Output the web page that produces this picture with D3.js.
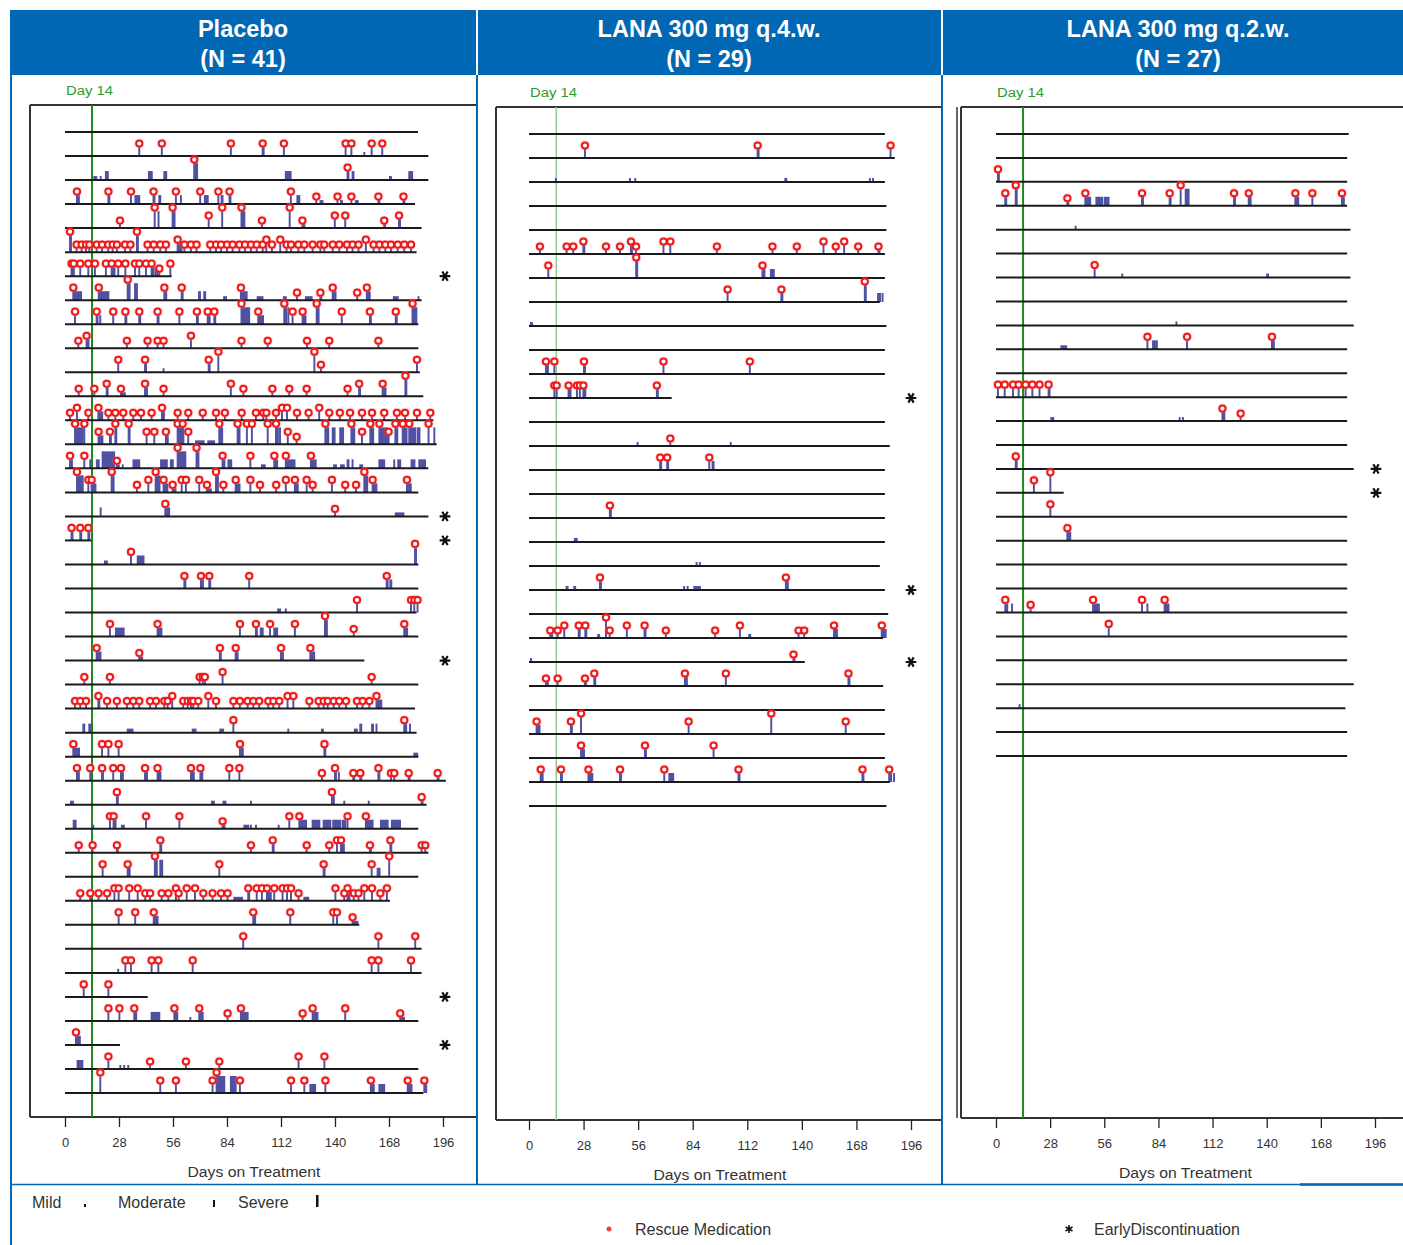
<!DOCTYPE html>
<html>
<head>
<meta charset="utf-8">
<script src="https://cdn.jsdelivr.net/npm/d3@7"></script>
<style>
  body { margin: 0; background: #fff; }
  svg { display: block; }
</style>
</head>
<body>
<svg id="chart" width="1403" height="1245"></svg>
<script>
// ---------------------------------------------------------------------------
// Data
// ---------------------------------------------------------------------------
const armTitles = [
  ["Placebo", "(N = 41)"],
  ["LANA 300 mg q.4.w.", "(N = 29)"],
  ["LANA 300 mg q.2.w.", "(N = 27)"]
];
const dayTicks = [0, 28, 56, 84, 112, 140, 168, 196];
const referenceDay = 14;
const severityNames = ["Mild", "Moderate", "Severe"];

// Each event: [day of onset, severity (1 mild, 2 moderate, 3 severe), rescue medication (0/1), duration in days]
const placeboEndDay = [183, 188.4, 188.4, 181.5, 184.9, 182.3, 55.3, 184.9, 183.2, 183.2,
  184, 185.8, 191, 192.7, 188.4, 183.2, 188.4, 13.5, 183.2, 183.2,
  182.3, 183.2, 155.2, 183.2, 181.5, 182.3, 183.2, 197.5, 187.5, 183.2,
  188.4, 183.2, 168.5, 152.6, 184.9, 184.9, 42.9, 183.2, 28.5, 183.2, 185.8];
const placeboDiscontinued = [7, 17, 18, 23, 37, 39];
const placeboEvents = [
  [],
  [[38,2,1],[49.7,2,1],[85.5,2,1],[102,2,1,1.5],[113,2,1],[145,2,1],[148,2,1],[154.7,1,0],[158.5,2,1],[164,2,1]],
  [[14.7,1,0,2],[18,1,0],[20.7,2,0,2],[43,2,0,2.5],[51,2,0,2],[66.5,3,1,2.5],[114,2,0,3.5],[146,2,1,1.5],[148.6,2,0,1.5],[168,1,0,1.5],[178,2,0,2.5]],
  [[5.7,2,1,2],[22,2,1,1.5],[33.7,2,1],[36,2,0,3],[45.4,2,1,1.5],[48.4,2,0,1.5],[57,2,1],[59.6,2,0],[69.6,2,1],[72,2,0,2.5],[79,2,1],[80.7,2,0,1.5],[84.8,2,1,1.5],[116.6,2,1],[120,2,0,2],[129.8,1,1],[132,1,0,2],[140.8,1,1],[142.6,1,0,1.5],[148,1,1],[150.3,1,0,2],[162,1,1,1.5],[175,1,1,1.5]],
  [[28,1,1],[46,3,1],[48,3,0],[55.3,3,1,2],[74,2,1],[81,3,1],[91,3,1,2.5],[101.6,1,1],[116,3,1],[122.6,1,1,2],[139.4,2,1],[144.8,2,1],[165,1,1,1.5],[172.7,2,1,1.5]],
  [[2.1,3,1,1.5],[5.5,1,1],[8.1,1,1],[10.4,1,1],[12.1,1,1],[15.9,1,1],[18.7,1,1],[21.9,1,1],[24.2,1,1],[26.4,1,1],[30.6,1,1],[33.4,1,1],[36.8,3,1,1.5],[42.3,1,1],[45.5,1,1],[48.9,1,1],[51.8,1,1],[57.9,2,1,3],[61.4,1,1],[64.8,1,1],[67.7,1,1],[74.8,1,1],[77.8,1,1],[80.4,1,1],[83.5,1,1],[86.4,1,1],[89.9,1,1],[92.8,1,1],[95.9,1,1],[98.9,1,1],[102,1,1],[103.9,2,1],[106.8,1,1],[111.1,2,1],[114.4,1,1],[116.7,1,1],[120.5,1,1],[123.6,1,1],[127.9,1,1],[131.9,1,1],[133.9,1,1],[138.3,1,1],[141.7,1,1],[145.7,1,1],[148.6,1,1],[151.7,1,1],[155.5,2,1],[159.5,1,1],[162.5,1,1],[165.6,1,1],[168.5,1,1],[172,1,1],[175.4,1,1],[178.9,1,1]],
  [[2.9,2,1,2],[4,2,1],[7.4,2,1],[11.6,2,1],[15,2,1],[20.7,2,1],[23.7,2,1,2.5],[27.1,2,1],[30.8,2,1],[35.8,2,1],[38,2,1],[41.5,2,1],[44.4,2,1,2],[46.5,2,0,2],[48.4,1,1],[54.1,2,1]],
  [[3.8,2,1,5],[17,2,1,6],[32,3,1,2],[35.8,3,0,2],[51,2,1,2],[60,2,1,1.5],[69,2,0,1.5],[71.7,2,0,1.5],[82,1,0,2],[90.7,2,1,4],[99.4,1,0,3.5],[113,1,0,2],[119.8,1,1],[124.4,1,0,4],[131.9,1,1,1.5],[138.3,2,1,2.5],[151,1,1],[156,2,1,2.5],[170,1,0,3],[182.8,1,0]],
  [[4.7,2,1],[15.9,2,1,1.5],[17.8,2,0],[24.5,2,1],[30.8,2,1,1.5],[38,2,1,1.5],[47.5,2,1,1.5],[58.8,2,1],[67.9,2,1,1.5],[73.5,2,1,2],[76.9,2,1,1.5],[91,3,1,5],[99.7,2,1,3.5],[113.2,3,1,2],[115.3,3,0],[117.5,2,1],[122.7,2,1,2.5],[130,3,1,2],[143,2,1],[157.6,2,1,1.5],[171,2,1,1.5],[179.7,3,1,3]],
  [[6.4,1,1],[10.7,2,1,2],[31.6,1,1],[42.3,1,1],[47.5,1,1],[50.6,1,1],[64.8,2,1],[91,1,1],[104.6,1,1],[125,1,1],[136.5,1,1],[162,1,1]],
  [[27.1,2,1],[41,2,1,1.5],[50.6,1,0],[74,2,1,1.5],[79,3,1],[128.8,3,1],[132.2,1,1],[182,2,1]],
  [[6.6,1,1],[14.7,1,1],[21.1,2,1,1.5],[28.5,1,1,3],[41,2,1,2],[50.6,1,1],[85.5,2,1],[92,1,1],[107,1,1],[115.8,1,1],[124.8,1,1],[146,1,1],[152,2,1,1.5],[164.2,2,1,2.5],[176,3,1,1.5]],
  [[2.1,1,1],[5.7,2,1],[11.6,1,1],[16.8,2,1,3],[22,1,1],[25.6,1,1],[29.7,1,1],[34.9,1,1],[38.9,1,1],[44.4,1,1],[49.8,2,1,2],[57.9,1,1],[63.4,1,1],[70.9,1,1],[77.8,1,1],[82.4,1,1],[91.1,1,1],[98.5,1,1],[102.3,1,1],[103.9,1,1],[108.9,1,1],[112,2,1],[114.6,2,1],[119.8,1,1],[125.8,1,1],[131.3,2,1],[136.5,1,1],[142,1,1],[147.3,1,1],[153.5,1,1],[158.7,1,1],[165,1,1],[171.6,1,1],[175.8,1,1],[182,1,1],[188.9,1,1]],
  [[4.7,3,1,5],[9.5,3,1],[16.9,2,1,3],[22.8,2,1,1.5],[25.6,3,1,1.5],[32.5,3,1,1.5],[41.8,2,1],[45.8,2,1],[51.8,2,1,2],[57.9,3,1,4],[60.5,3,1],[63.4,2,1],[67.4,1,0,5],[73.8,1,0,4],[79.5,3,1,2.5],[89,3,1,2],[93.8,3,1],[96.4,3,1],[104.6,3,1],[108.9,3,1,2],[111,3,0],[115,2,1],[119.6,1,1],[134.5,3,1,2.5],[138.3,3,0,2],[142.2,3,0,2.5],[148,3,1,2.5],[153.5,2,1],[157.8,3,1,2.5],[162.5,3,1,5],[167.3,2,1],[170.8,3,1,2],[174.6,3,1,3],[178,3,1,4],[182.3,3,0,2],[188,3,1],[191,3,0]],
  [[2.1,2,1,2],[9.5,2,1],[12.6,2,0],[16,2,0,2],[19,3,0,7],[26.4,1,1,2],[29.4,1,0],[35,2,0,4],[49.3,2,0,4],[54.4,2,0,2],[57.9,3,1,5],[67.7,3,1,2],[81.2,2,1,2],[84.2,2,0,2.5],[95.6,2,1],[101.6,1,0,2.5],[108,2,1,2.5],[114,2,1,5.5],[127,2,1,3.5],[139,1,0,2],[142.6,1,0,2.5],[146,2,0,1.5],[148.6,2,0],[152.6,1,0,2],[162.5,2,0,3.5],[170.2,2,0],[172.3,2,0,2],[179.2,2,0,2.5],[183.2,2,0,4]],
  [[5.7,3,1,4],[11.6,2,1],[13.3,2,1,3],[23.7,3,1,2],[36.8,1,1],[42.7,2,1],[46.5,3,1,3],[50.6,2,1,3],[55.3,1,1,2.5],[60,2,1],[62.2,2,1],[69.1,2,1],[73.1,1,1,3],[77.8,3,1,2],[81.6,1,1],[88,2,1,3],[95.6,2,1],[100.6,1,1],[109,1,1],[114,2,1],[118.7,2,1,2.5],[124.8,2,1],[127.9,1,1],[137.9,2,1],[144.8,1,1],[150.4,1,1],[154.7,3,1,2.5],[159,2,1,3],[176.8,2,1,3]],
  [[18,2,0],[51.5,2,1,3],[139.5,1,1],[171,1,0,5]],
  [[2.9,2,1,1.5],[7.4,2,1,1.5],[11.6,2,1,1.5]],
  [[20.2,1,0,2],[33.7,2,1],[37.2,2,0,4],[181,3,1,1.5]],
  [[61.4,2,1,1.5],[70,2,1,2],[74.3,2,1,1.5],[95,2,1],[166.3,2,1,1.5],[168.2,2,0,1.5]],
  [[110,1,0,2],[114,1,0],[150.9,2,1],[178.9,2,1],[180.6,2,1],[182.3,2,1]],
  [[22.8,2,1],[25.9,2,0,5],[47.5,2,1,3],[90.2,2,1],[98.5,2,1,1.5],[101,2,0,2],[105.8,2,1],[108,2,0,2.5],[118.7,2,1],[134.3,3,1,2],[149.2,1,1],[175.4,2,1,2.5]],
  [[15.9,2,1,3],[38,1,1,2.5],[79.8,2,1,1.5],[88,2,1,2],[111.5,2,1,2],[126.7,2,1,3]],
  [[9.5,1,1],[22.8,1,1],[69.3,1,1],[70.9,1,1],[72,1,1],[81.2,2,1],[158.5,1,1]],
  [[4.7,1,1],[7.4,1,1],[10.4,1,1],[16.8,2,1,1.5],[21.3,1,1],[26.4,1,1],[31.6,1,1],[34.9,1,1],[38,1,1],[43.6,1,1],[46.7,1,1],[51,1,1],[52.7,1,1],[55.1,2,1],[60.8,1,1],[63.1,1,1],[64.8,1,1],[66,1,1],[68.6,1,1],[73.8,2,1],[77.8,1,1],[86.8,1,1],[90.2,1,1],[94.2,1,1],[97.1,1,1],[100.2,1,1],[104.9,1,1],[107.5,1,1],[110.6,1,1],[114.9,2,1],[117.9,2,1],[126.2,1,1],[131,1,1],[133.6,1,1],[135.7,1,1],[138.8,1,1],[141.7,1,1],[145.2,1,1],[150.9,1,1],[153.8,1,1],[157.3,1,1],[161,2,1,3.5]],
  [[9,2,0,1.5],[12.1,2,0,1.5],[32,1,0,3.5],[65.7,1,0,2.5],[80,1,0,2.5],[86.8,2,1],[115.3,1,0],[132.7,1,0,1.5],[149.8,1,0,2],[152.6,2,0,1.5],[158.7,2,0,1.5],[161,2,0],[175.4,2,1,2],[178.4,2,0]],
  [[3.8,2,1,4],[18.7,2,1],[22,2,1],[27.3,2,1],[90.2,2,1,2.5],[134,2,1,1.5],[180.6,1,0,2.5]],
  [[5.7,2,1,2],[12.6,2,1],[18.7,2,1,1.5],[24.5,2,1],[28.5,2,1,2],[41,2,1,2],[47.5,2,1,2.5],[64.8,2,1,2.5],[69.7,2,1,2],[84.7,2,1],[89.9,2,1],[132.7,1,1],[139.5,2,1,1.5],[141.5,2,0],[149,1,1,1.5],[152.6,1,1,1.5],[162,2,1,1.5],[168.5,1,1],[170.2,1,1],[177.7,1,1,1.5],[192.7,1,1,1.5]],
  [[2.6,1,0,2],[26.4,2,1,1.5],[75.7,1,0,2],[81.7,1,0,2],[95.9,1,0],[137.9,2,1,2],[144.3,1,0],[157,1,0],[184.4,1,1,1.5]],
  [[4,2,0,2],[14.2,1,0],[22.8,2,1],[24.7,2,1,2],[29,1,0,2],[41.5,2,1],[58.8,2,1],[81.2,1,1,2],[92.5,1,0,3],[95.9,1,0],[98.5,1,0],[110.3,1,0],[115.8,2,1],[121,2,1,4.5],[127.9,2,0,4.5],[133.6,2,0,4.5],[138.6,2,0,4.5],[143.4,2,0,2.5],[146,2,1],[155.5,2,1,4.5],[163.3,2,0,4.5],[169,2,0,4],[172.7,2,0,1.5]],
  [[6.6,1,1],[13.8,1,1],[26.4,1,1,1.5],[48.9,2,1,1.5],[95.9,1,1],[107.2,2,1,1.5],[124.8,1,1],[136.5,1,1],[140.5,2,1],[142.6,2,1,2.5],[157.6,1,1,1.5],[168.2,2,1,1.5],[184.4,1,1],[186.3,1,1]],
  [[19,2,1],[32,2,1,2],[46.1,3,1,2],[48.9,3,0,2],[79.5,2,1],[133.6,2,1,1.5],[158.5,2,1],[161.6,2,0,2],[167.6,3,1]],
  [[7.4,1,1],[12.6,1,1],[16.9,1,1],[21.3,1,1],[25.1,2,1],[27.3,2,1],[32.8,2,1],[37.2,2,1],[41.1,1,1],[43.6,1,1],[49.6,1,1],[53.1,1,1],[57,2,1],[58.4,1,1],[62.6,2,1],[66.9,2,1],[71.2,1,1],[76,1,1],[80.4,1,1],[83.8,1,1],[87.3,1,0,5],[94.5,2,1,1.5],[98.9,2,1],[101.6,2,1],[104.2,2,1,3],[108,2,1],[112.3,2,1],[114.6,2,1],[116.7,2,1],[120.6,1,1],[123.6,1,0,3],[139.7,2,1],[144.3,1,1],[146,2,1,2],[149.2,1,1],[151.7,1,1],[154.7,2,1],[158.7,2,1],[163,1,1],[166.4,2,1]],
  [[27.3,2,1],[35.9,2,1],[45.5,2,1,3],[97.1,2,1,2],[116.3,2,1],[138.6,2,1],[140.5,2,1],[148.6,1,1,3.5]],
  [[91.9,2,1],[162,2,1],[181.1,2,1]],
  [[27.1,1,0],[30.8,2,1],[33.7,2,1],[44.4,2,1],[47.9,2,1],[65.7,2,1],[158.5,2,1],[162,2,1],[178.9,2,1]],
  [[9.2,2,1],[22,2,1]],
  [[22,2,1],[27.7,2,1],[35.4,2,1,2],[44.4,2,0,5],[47.9,2,0],[56.2,2,1,2.5],[64.5,1,0],[69.1,2,1,2],[70.9,2,0],[83.8,1,1],[90.7,2,1,4.5],[122.7,1,1],[127.9,2,1,3.5],[144.8,2,1],[173.3,1,1,3]],
  [[5.2,2,1,3]],
  [[6,2,0,3.5],[22,2,1],[28.2,1,0],[30.2,1,0],[32.3,1,0],[43.6,1,1],[62.2,1,1],[79.5,1,1],[120.6,2,1],[134,2,1]],
  [[17.8,3,1],[48.9,2,1],[57,2,1],[76,2,1],[78.1,3,1,5],[85.5,3,0,3.5],[90.2,2,1],[116.7,2,1],[123.6,2,1],[126.7,2,0,3.5],[134.5,2,1],[158.1,2,1,2.5],[162.5,2,0,3.5],[177.2,2,1,3],[185.8,2,1,2]]
];

const q4wEndDay = [182.6, 187.7, 182.6, 183.4, 183.4, 182.6, 182.6, 180, 183.4, 182.6,
  182.6, 73.2, 182.6, 185.1, 182.6, 182.6, 182.6, 182.6, 180, 182.6,
  184.3, 181.7, 141.5, 181.7, 182.6, 182.6, 182.6, 185.1, 183.4];
const q4wDiscontinued = [12, 20, 23];
const q4wEvents = [
  [],
  [[28.2,2,1],[116.8,2,1,1.5],[185,2,1]],
  [[13.3,1,0],[51.3,1,0],[54,1,0],[131,1,0,1.5],[174.4,1,0],[176,1,0]],
  [],
  [],
  [[5.1,1,1],[18.8,1,1],[22.2,1,1],[27.4,2,1,1.5],[39,1,1],[46.2,1,1],[51.8,2,1,1.5],[54.4,1,1],[68.5,2,1],[72,2,1],[95.9,1,1],[124.4,1,1],[136.9,1,1],[150.6,2,1],[156.9,1,1],[161.2,2,1],[168.4,1,1],[178.8,1,1,1.5]],
  [[9.4,2,1],[54.5,3,1,1.5],[119.3,2,1,2],[123.6,2,0,2.5]],
  [[101.4,2,1],[129,2,1,1.5],[171.8,3,1,1.5],[178.6,2,0,2],[180.9,2,0]],
  [[0.5,1,0,1.5]],
  [],
  [[8.2,2,1,2],[12.5,2,1],[27.7,2,1,1.5],[68.5,2,1],[112.8,2,1]],
  [[12.5,2,1],[13.7,2,1],[19.8,2,1,2],[24.1,2,1],[25.6,2,1],[27.4,2,1,2],[65.1,2,1,1.5]],
  [],
  [[55.2,1,0],[72,1,1],[103,1,0]],
  [[66.8,2,1,1.5],[70.4,2,1,1.5],[92,2,1],[93.7,2,0,1.5]],
  [],
  [[41,2,1,1.5]],
  [[23,1,0,2]],
  [[85.5,1,0],[87.2,1,0]],
  [[18.8,1,0,1.5],[22.7,1,0,1.5],[35.9,2,1,1.5],[79.1,1,0],[80.9,1,0],[84.3,1,0,3.5],[87.2,1,0],[131.3,2,1,2]],
  [],
  [[10.4,1,1,2],[14.2,1,1],[17.6,2,1],[25,2,1,1.5],[28.4,2,1,1.5],[35,1,0,1.5],[39,3,1],[40.9,1,1],[49.7,2,1],[58.8,2,1,1.5],[69.7,1,1],[95,1,1],[107.7,2,1],[112.5,1,0,1.5],[137.8,1,1],[140.7,1,1],[156,2,1,2.5],[180.5,2,1,3]],
  [[0.5,1,0],[135.2,1,1,1.5]],
  [[8.2,1,1,2],[14.2,1,1],[28.2,1,1,1.5],[33,2,1,1.5],[79.5,2,1,2],[100.5,2,1],[163.4,2,1,1.5]],
  [],
  [[3.4,2,1,2.5],[21,2,1,1.5],[26.2,3,1],[81.4,2,1],[123.8,3,1],[162,2,1]],
  [[26.2,2,1,2.5],[59,2,1,1.5],[94.2,2,1]],
  [[5.5,2,1,2],[15.9,2,1,1.5],[30,2,1,3],[46.2,2,1,1.5],[68.9,2,1],[71.5,2,0,3],[107,2,1,1.5],[170.6,2,1,1.5],[184.3,2,1,2],[186.8,2,0]],
  []
];

const q2wEndDay = [182.4, 181.6, 181.6, 181.6, 183.3, 181.6, 183.3, 181.6, 185, 181.6,
  181.6, 181.6, 181.6, 181.6, 185, 35, 181.6, 181.6, 181.6, 181.6,
  181.6, 181.6, 181.6, 185, 180.7, 181.6, 181.6];
const q2wDiscontinued = [15, 16];
const q2wEvents = [
  [],
  [],
  [[0.5,2,1,1.5]],
  [[4.3,2,1,1.5],[9.7,3,1,1.5],[36.4,1,1,1.5],[45.7,2,1,3.5],[51.4,2,0,4],[55.7,2,0,3],[75,2,1,1.5],[89.3,2,1,1.5],[95,3,1],[97.6,3,0,2.5],[122.6,2,1,1.5],[130.2,2,1,2],[154.3,2,1,2.5],[163.1,2,1],[178.4,2,1,2]],
  [[40.7,1,0]],
  [],
  [[50.5,2,1],[64.8,1,0],[139.7,1,0,1.5]],
  [],
  [[92.8,1,0]],
  [[33.3,1,0,3.5],[77.8,2,1],[80.7,2,0,3],[98.3,2,1],[142.2,2,1,2]],
  [],
  [[0.5,2,1],[4,2,1],[8.3,2,1],[11.2,2,1],[14.8,2,1],[18.3,2,1],[22,2,1],[26.7,2,1,1.5]],
  [[28.1,1,0,2],[94.5,1,0],[96.2,1,0],[116.6,2,1,2],[126,1,1]],
  [],
  [[9.7,2,1,1.5]],
  [[19.1,2,1],[27.6,3,1]],
  [[27.6,2,1]],
  [[36.4,2,1,2.5]],
  [],
  [],
  [[4.3,2,1,2],[7.8,2,0],[17.4,1,1],[49.7,2,1,4],[75,2,1],[77.8,2,0],[86.7,2,1,3]],
  [[57.8,2,1]],
  [],
  [],
  [[11.7,1,0]],
  [],
  []
];

// ---------------------------------------------------------------------------
// Layout
// ---------------------------------------------------------------------------
const FONT = "'Liberation Sans', Arial, Helvetica, sans-serif";
const BLUE = "#0067b4";
const BAR = "#4f51a3";

const panels = [
  { title: armTitles[0], end: placeboEndDay, events: placeboEvents, disc: placeboDiscontinued,
    titleX: 243, days: [65, 443], frame: { l: 30, r: 476, t: 105, b: 1117 }, rows: [132, 1093],
    dayLine: "#1c8a1c", dayLineW: 2, starX: 445, labelY: 91, doubleLeft: false },
  { title: armTitles[1], end: q4wEndDay, events: q4wEvents, disc: q4wDiscontinued,
    titleX: 709, days: [529, 911], frame: { l: 496, r: 941, t: 107, b: 1120 }, rows: [134, 806],
    dayLine: "#8dcc8d", dayLineW: 1.5, starX: 911, labelY: 93, doubleLeft: false },
  { title: armTitles[2], end: q2wEndDay, events: q2wEvents, disc: q2wDiscontinued,
    titleX: 1178, days: [996, 1375], frame: { l: 961, r: 1403, t: 107, b: 1118 }, rows: [134, 756],
    dayLine: "#1c8a1c", dayLineW: 2, starX: 1376, labelY: 93, doubleLeft: true }
];

const svg = d3.select("#chart");
const heightBySeverity = d3.scaleOrdinal().domain([1, 2, 3]).range([4, 9, 17]);
const starPath = d3.symbol().type(d3.symbolAsterisk).size(80)();

// Header band
svg.append("rect").attr("x", 10).attr("y", 10).attr("width", 1393).attr("height", 65).attr("fill", BLUE);

// Blue outline of the table body
const outline = svg.append("g").attr("stroke", BLUE).attr("fill", "none");
outline.append("line").attr("x1", 11).attr("x2", 11).attr("y1", 10).attr("y2", 1245).attr("stroke-width", 2);
outline.append("line").attr("x1", 10).attr("x2", 1403).attr("y1", 1184.5).attr("y2", 1184.5).attr("stroke-width", 1.5);
outline.append("line").attr("x1", 1300).attr("x2", 1403).attr("y1", 1184.5).attr("y2", 1184.5).attr("stroke-width", 2.5);
[477, 942].forEach(x => {
  outline.append("line").attr("x1", x).attr("x2", x).attr("y1", 75).attr("y2", 1184).attr("stroke-width", 2);
});
// White separators inside the header
[477, 942].forEach(x => {
  svg.append("line").attr("x1", x).attr("x2", x).attr("y1", 10).attr("y2", 75)
    .attr("stroke", "#fff").attr("stroke-width", 2);
});

panels.forEach(p => {
  const g = svg.append("g");

  // Arm title
  const t = g.append("text").attr("text-anchor", "middle")
    .attr("fill", "#fff").attr("font-family", FONT).attr("font-weight", "bold").attr("font-size", 23.5);
  t.append("tspan").attr("x", p.titleX).attr("y", 37).text(p.title[0]);
  t.append("tspan").attr("x", p.titleX).attr("y", 67).text(p.title[1]);

  const x = d3.scaleLinear().domain([0, 196]).range(p.days);
  const y = d3.scaleLinear().domain([0, p.end.length - 1]).range(p.rows);
  const f = p.frame;

  // Plot frame
  const frameG = g.append("g").attr("stroke", "#333").attr("stroke-width", 2);
  frameG.append("line").attr("x1", f.l).attr("x2", f.r).attr("y1", f.t).attr("y2", f.t);
  frameG.append("line").attr("x1", f.l).attr("x2", f.r).attr("y1", f.b).attr("y2", f.b);
  frameG.append("line").attr("x1", f.l).attr("x2", f.l).attr("y1", f.t).attr("y2", f.b);
  if (p.doubleLeft) {
    frameG.append("line").attr("x1", f.l - 4).attr("x2", f.l - 4).attr("y1", f.t).attr("y2", f.b).attr("stroke-width", 1.5);
  }

  // Day 14 reference line and label
  g.append("line").attr("x1", x(referenceDay)).attr("x2", x(referenceDay))
    .attr("y1", f.t).attr("y2", f.b).attr("stroke", p.dayLine).attr("stroke-width", p.dayLineW);
  g.append("text").attr("x", x(0) + 1).attr("y", p.labelY + 4).attr("fill", "#2a9a2a")
    .attr("font-family", FONT).attr("font-size", 12).attr("textLength", 47).attr("lengthAdjust", "spacingAndGlyphs")
    .text("Day " + referenceDay);

  // Patient rows
  p.end.forEach((endDay, i) => {
    const row = g.append("g");
    const base = y(i);
    const evs = p.events[i].map(e => ({ day: e[0], sev: e[1], rescue: e[2], dur: e[3] || 1 }));

    row.selectAll("rect.attack").data(evs).join("rect")
      .attr("class", "attack")
      .attr("x", d => x(d.day))
      .attr("y", d => base - heightBySeverity(d.sev))
      .attr("width", d => Math.max(1.8, x(d.day + d.dur) - x(d.day)))
      .attr("height", d => heightBySeverity(d.sev))
      .attr("fill", BAR);

    row.append("line").attr("x1", x(0)).attr("x2", x(endDay))
      .attr("y1", base).attr("y2", base).attr("stroke", "#1a1a1a").attr("stroke-width", 2);

    const rescues = evs.filter(d => d.rescue);
    row.selectAll("circle.halo").data(rescues).join("circle")
      .attr("class", "halo")
      .attr("cx", d => x(d.day) + 1)
      .attr("cy", d => base - heightBySeverity(d.sev) - 3.5)
      .attr("r", 5)
      .attr("fill", "#ff6b6b").attr("opacity", 0.3);
    row.selectAll("circle.rescue").data(rescues).join("circle")
      .attr("class", "rescue")
      .attr("cx", d => x(d.day) + 1)
      .attr("cy", d => base - heightBySeverity(d.sev) - 3.5)
      .attr("r", 3.1)
      .attr("fill", "#fff")
      .attr("stroke", "#f01818")
      .attr("stroke-width", 2);
  });

  // Early discontinuation marks
  g.selectAll("path.disc").data(p.disc).join("path")
    .attr("class", "disc")
    .attr("d", starPath)
    .attr("transform", r => `translate(${p.starX},${y(r - 1)}) rotate(90)`)
    .attr("fill", "none").attr("stroke", "#111").attr("stroke-width", 2.2);

  // Axis
  const axis = g.append("g").attr("transform", `translate(0,${f.b})`)
    .call(d3.axisBottom(x).tickValues(dayTicks).tickSize(10).tickSizeOuter(0).tickPadding(11));
  axis.select(".domain").remove();
  axis.selectAll(".tick line").attr("stroke", "#222").attr("stroke-width", 1.3);
  axis.selectAll(".tick text").attr("font-family", FONT).attr("font-size", 13).attr("fill", "#333");
  g.append("text").attr("x", (p.days[0] + p.days[1]) / 2).attr("y", f.b + 60)
    .attr("text-anchor", "middle").attr("font-family", FONT).attr("font-size", 14).attr("fill", "#333")
    .attr("textLength", 133).attr("lengthAdjust", "spacingAndGlyphs")
    .text("Days on Treatment");
});

// Legend
const legend = svg.append("g").attr("font-family", FONT).attr("font-size", 16).attr("fill", "#333");
const sevLegendX = [32, 118, 238];
const sevSymbolX = [84, 213, 316];
const sevSymbolH = [3, 7, 12];
severityNames.forEach((name, i) => {
  legend.append("text").attr("x", sevLegendX[i]).attr("y", 1208).text(name);
  legend.append("rect").attr("x", sevSymbolX[i]).attr("y", 1207 - sevSymbolH[i])
    .attr("width", i === 2 ? 2.5 : 2).attr("height", sevSymbolH[i]).attr("fill", "#111");
});
legend.append("circle").attr("cx", 609).attr("cy", 1229).attr("r", 2.5).attr("fill", "#f04040");
legend.append("text").attr("x", 635).attr("y", 1235).text("Rescue Medication");
legend.append("path").attr("d", d3.symbol().type(d3.symbolAsterisk).size(45)())
  .attr("transform", "translate(1069,1229)").attr("fill", "none").attr("stroke", "#111").attr("stroke-width", 1.6);
legend.append("text").attr("x", 1094).attr("y", 1235).text("EarlyDiscontinuation");
</script>
</body>
</html>
